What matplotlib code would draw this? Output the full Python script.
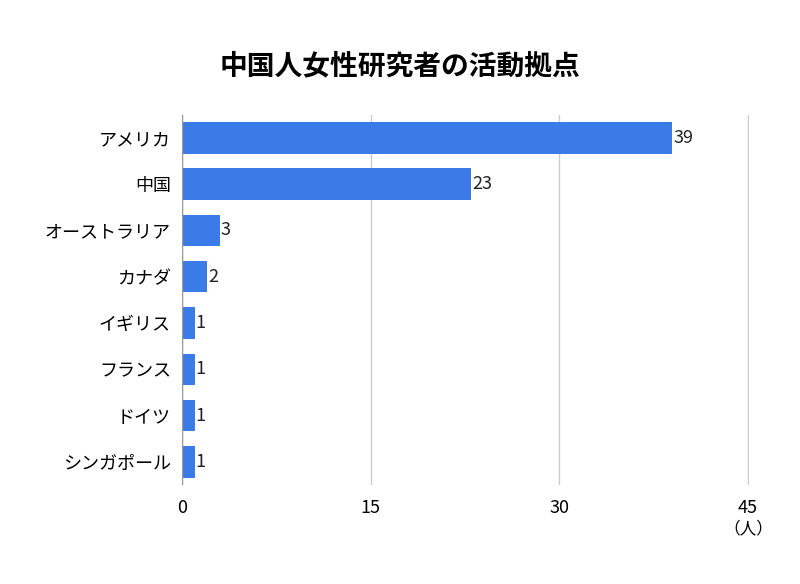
import matplotlib.pyplot as plt

plt.rcParams['font.family'] = 'Noto Sans CJK JP'

countries = ["アメリカ", "中国", "オーストラリア", "カナダ", "イギリス", "フランス", "ドイツ", "シンガポール"]
counts = [39, 23, 3, 2, 1, 1, 1, 1]
xticks = [0, 15, 30, 45]

fig = plt.figure(figsize=(8, 5.84), dpi=100)
ax = fig.add_axes([0.2275, 0.1695, 0.709, 0.634])

y = list(range(len(countries)))
ax.barh(y, counts, height=0.68, color='#3b7be8', zorder=3)
for yi, c in zip(y, counts):
    ax.text(c + 0.1, yi, str(c), va='center', ha='left', fontsize=13, color='#222222')

ax.set_yticks(y)
ax.set_yticklabels(countries, fontsize=13)
ax.set_ylim(len(countries) - 0.5, -0.5)
ax.set_xlim(0, 45.1)
ax.set_xticks(xticks)
ax.set_xticklabels([str(v) for v in xticks], fontsize=13)
ax.tick_params(length=0, pad=8)
ax.tick_params(axis='x', pad=10)
ax.grid(axis='x', color='#cccccc', linewidth=1, zorder=0)
for s in ax.spines.values():
    s.set_visible(False)
ax.axvline(0, color='#999999', linewidth=1, zorder=4)

fig.text(0.5, 0.886, "中国人女性研究者の活動拠点", ha='center', va='center', fontsize=20, fontweight='bold')
fig.text(0.936, 0.095, "（人）", ha='center', va='center', fontsize=12)

plt.savefig("out.png")
